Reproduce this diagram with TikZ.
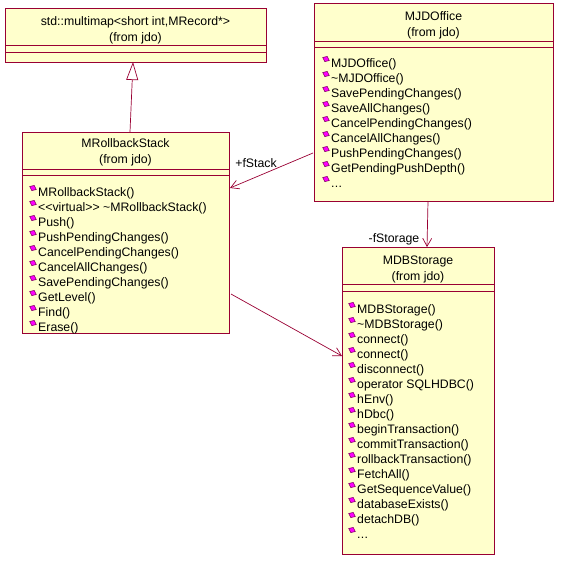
\documentclass[tikz,border=0pt]{standalone}
\usepackage{fontspec}
\setmainfont{Liberation Sans}
\usetikzlibrary{arrows.meta,calc}
\definecolor{umlfill}{HTML}{FFFFCC}
\definecolor{umlline}{HTML}{990033}
\definecolor{iconfill}{HTML}{FF00FF}
\definecolor{iconedge}{HTML}{800060}
\newcommand{\mydots}{.\kern0.3pt.\kern0.3pt.}
\begin{document}
\begin{tikzpicture}[x=1pt,y=-1pt,
  classbox/.style={draw=umlline, fill=umlfill, line width=0.9pt, anchor=north west, inner sep=0pt, outer sep=0pt},
  sep/.style={draw=umlline, line width=0.9pt},
  ttl/.style={anchor=base, inner sep=0pt, font=\fontsize{12.3}{14}\selectfont},
  meth/.style={anchor=base west, inner sep=0pt, font=\fontsize{12.3}{14}\selectfont},
  lbl/.style={anchor=base, inner sep=0pt, font=\fontsize{12.3}{14}\selectfont},
  assoc/.style={draw=umlline, line width=0.7pt, -{Straight Barb[length=8pt,width=9pt,line width=0.7pt]}},
  gen/.style={draw=umlline, line width=0.7pt, -{Triangle[open,length=18pt,width=12pt,line width=0.7pt]}},
  icn/.pic={\filldraw[fill=iconfill, draw=iconedge, line width=0.6pt, rotate=-25] (-3.6,0) -- (0,-2.8) -- (3.6,0) -- (0,2.8) -- cycle;}
]
\useasboundingbox (0,0) rectangle (569,568);

% multimap
\node[classbox, minimum width=261, minimum height=54] (mm) at (5,8) {};
\draw[sep] (mm.west |- 0,45) -- (mm.east |- 0,45);
\draw[sep] (mm.west |- 0,52) -- (mm.east |- 0,52);
\node[ttl] (mmt) at (135.5,25) {std::multimap<short int,MRecord*>};
\node[ttl] (mmf) at (135.5,41) {(from jdo)};

% MRollbackStack
\node[classbox, minimum width=207, minimum height=201] (rs) at (22,132) {};
\draw[sep] (rs.west |- 0,169) -- (rs.east |- 0,169);
\draw[sep] (rs.west |- 0,175) -- (rs.east |- 0,175);
\node[ttl] (rst) at (125.5,147) {MRollbackStack};
\node[ttl] (rsf) at (125.5,163) {(from jdo)};
\foreach \t [count=\i from 0] in {MRollbackStack(),{<{}<virtual>{}> \textasciitilde MRollbackStack()},Push(),PushPendingChanges(),CancelPendingChanges(),CancelAllChanges(),SavePendingChanges(),GetLevel(),Find(),Erase()}{
  \node[meth] (rsm\i) at (38,196+15*\i) {\t};
  \pic at (33,188+15*\i) {icn};
}

% MJDOffice
\node[classbox, minimum width=239, minimum height=198] (mjd) at (314,3) {};
\draw[sep] (mjd.west |- 0,41) -- (mjd.east |- 0,41);
\draw[sep] (mjd.west |- 0,47) -- (mjd.east |- 0,47);
\node[ttl] (mjdt) at (433.5,20) {MJDOffice};
\node[ttl] (mjdf) at (433.5,36) {(from jdo)};
\foreach \t [count=\i from 0] in {MJDOffice(),\textasciitilde MJDOffice(),SavePendingChanges(),SaveAllChanges(),CancelPendingChanges(),CancelAllChanges(),PushPendingChanges(),GetPendingPushDepth()}{
  \node[meth] (mjdm\i) at (331,67+15*\i) {\t};
  \pic at (326,59+15*\i) {icn};
}
\node[meth] (mjdm8) at (331,187) {\mydots};
\pic at (326,179) {icn};

% MDBStorage
\node[classbox, minimum width=152, minimum height=307] (db) at (342,247) {};
\draw[sep] (db.west |- 0,284) -- (db.east |- 0,284);
\draw[sep] (db.west |- 0,291) -- (db.east |- 0,291);
\node[ttl] (dbt) at (418,264) {MDBStorage};
\node[ttl] (dbf) at (418,280) {(from jdo)};
\foreach \t [count=\i from 0] in {MDBStorage(),\textasciitilde MDBStorage(),connect(),connect(),disconnect(),operator SQLHDBC(),hEnv(),hDbc(),beginTransaction(),commitTransaction(),rollbackTransaction(),FetchAll(),GetSequenceValue(),databaseExists(),detachDB()}{
  \node[meth] (dbm\i) at (357,313+15*\i) {\t};
  \pic at (352,305+15*\i) {icn};
}
\node[meth] (dbm15) at (357,538) {\mydots};
\pic at (352,530) {icn};

% connectors
\coordinate (g1) at (130,132);
\coordinate (g2) at (133,62);
\draw[gen] (g1) -- (g2);

\coordinate (s1) at (313,153);
\coordinate (s2) at (230,188);
\draw[assoc] (s1) -- (s2);
\node[lbl] (fstack) at (256,167) {+fStack};

\coordinate (d1) at (428,201);
\coordinate (d2) at (427,247);
\draw[assoc] (d1) -- (d2);
\node[lbl] (fstorage) at (394,242) {-fStorage};

\coordinate (r1) at (231,294);
\coordinate (r2) at (342,356);
\draw[assoc] (r1) -- (r2);
\end{tikzpicture}
\end{document}
